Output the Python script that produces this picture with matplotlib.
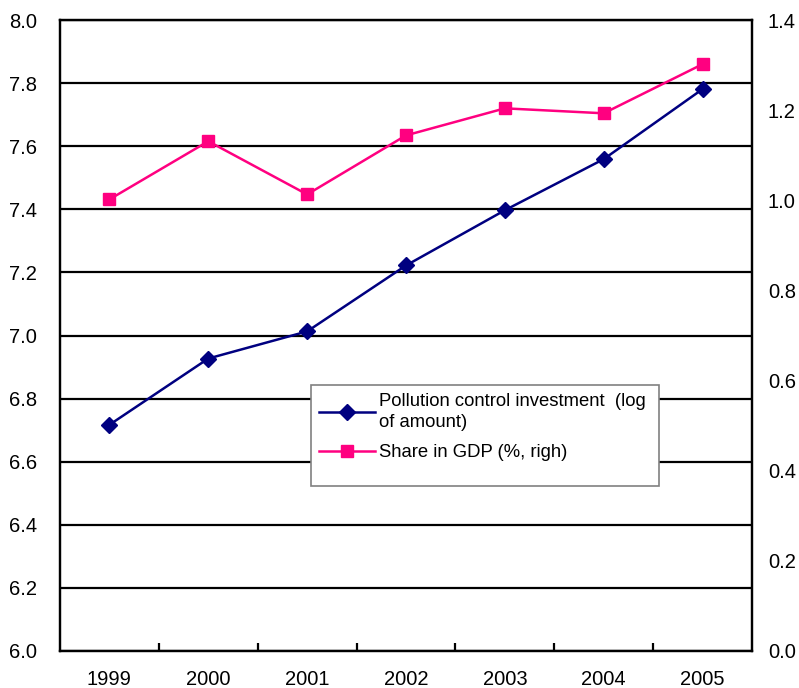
import matplotlib
matplotlib.use('Agg')
import matplotlib.pyplot as plt
from matplotlib.patches import Rectangle

plt.rcParams['font.family'] = ['Liberation Sans', 'DejaVu Sans']

years = ['1999', '2000', '2001', '2002', '2003', '2004', '2005']
investment_log = [6.717, 6.927, 7.013, 7.222, 7.397, 7.559, 7.781]
gdp_share = [1.002, 1.131, 1.013, 1.144, 1.204, 1.193, 1.302]

fig = plt.figure(figsize=(7.99, 6.88), dpi=100)
ax = fig.add_axes([60 / 799, 1 - 651 / 688, 692 / 799, 631 / 688])
ax2 = ax.twinx()

x = list(range(len(years)))

# horizontal grid lines on left scale
ax.set_ylim(6.0, 8.0)
ax.set_yticks([6.0 + 0.2 * i for i in range(11)])
ax.yaxis.grid(True, color='black', linewidth=1.6)
ax.set_axisbelow(True)

l1, = ax.plot(x, investment_log, color='#000080', linewidth=1.8, marker='D',
              markersize=8, markerfacecolor='#000080', markeredgecolor='#000080',
              label='Pollution control investment  (log\nof amount)', zorder=3)
l2, = ax2.plot(x, gdp_share, color='#FF0080', linewidth=1.8, marker='s',
               markersize=9, markerfacecolor='#FF0080', markeredgecolor='#FF0080',
               label='Share in GDP (%, righ)', zorder=3)

ax.set_xlim(-0.5, len(years) - 0.5)
ax.set_xticks(x)
ax.set_xticklabels(years)
ax.set_xticks([i + 0.5 for i in range(len(years) - 1)], minor=True)
ax.tick_params(axis='x', which='major', length=0, pad=14, labelsize=14.5)
ax.tick_params(axis='x', which='minor', direction='in', length=6, width=1.6)
ax.tick_params(axis='y', length=0, pad=16.5, labelsize=14.5)
ax.set_yticklabels([f'{v:.1f}' for v in ax.get_yticks()])

ax2.set_ylim(0.0, 1.4)
ax2.set_yticks([0.2 * i for i in range(8)])
ax2.set_yticklabels([f'{0.2 * i:.1f}' for i in range(8)])
ax2.tick_params(axis='y', length=0, pad=11.5, labelsize=14.5)

for a in (ax, ax2):
    for s in a.spines.values():
        s.set_linewidth(1.6)
        s.set_color('black')

# legend box drawn separately so it can keep the empty space at the bottom
box = Rectangle(((311 - 60) / 692, (651 - 486) / 631), 348 / 692, 101 / 631,
                transform=ax2.transAxes, facecolor='white', edgecolor='#808080',
                linewidth=1.2, zorder=4)
ax2.add_patch(box)

leg = ax.legend(handles=[l1, l2], loc='upper left',
                bbox_to_anchor=((311 - 60) / 692, (651 - 385) / 631),
                frameon=False, fontsize=13.3, handlelength=3.0,
                handletextpad=0.25, borderpad=0.45, labelspacing=0.75,
                borderaxespad=0)
for t in leg.get_texts():
    t.set_linespacing(1.25)
leg.set_zorder(5)
leg.remove()
ax2.add_artist(leg)

fig.savefig('out.png', dpi=100)
